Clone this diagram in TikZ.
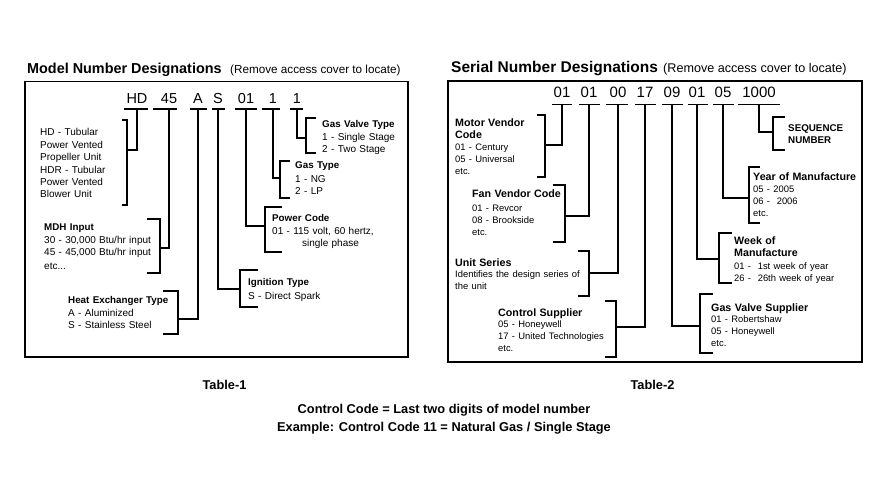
\documentclass[tikz,border=0pt]{standalone}
\usepackage{fontspec}
\setmainfont{Liberation Sans}
\newcommand\rgL{\fontsize{10}{12.6}\selectfont}
\newcommand\bdL{\bfseries\fontsize{9.8}{12.6}\selectfont}
\newcommand\rgR{\fontsize{9.4}{11.8}\selectfont}
\newcommand\bdR{\bfseries\fontsize{10.7}{11.8}\selectfont}
\tikzset{
  ln/.style={line width=1.7pt, draw=black},
  frame/.style={line width=1.6pt, draw=black},
  codeL/.style={font=\fontsize{14.5}{15}\selectfont, inner sep=0pt},
  codeR/.style={font=\fontsize{15}{16}\selectfont, inner sep=0pt},
  desc/.style={text width=150pt, align=left, inner sep=0pt, anchor=base west},
  plain/.style={inner sep=0pt, anchor=base west},
  foot/.style={inner sep=0pt, anchor=base, font=\bfseries\fontsize{12.8}{14}\selectfont},
}
% style, name, text, stem x, baseline, underline x1, underline x2, underline y
\newcommand\codeline[8]{%
  \node[#1, anchor=base] (#2) at (#4,#5) {#3};
  \coordinate (#2u) at (#4,#8);
  \draw[ln] (#6,#8) -- (#7,#8);
}
% name, x, ytop, ybot, ymid, tick dx
\newcommand\bracketpath[6]{%
  \coordinate (#1) at (#2,#5);
  \draw[ln] ({#2+#6},#3) -- (#2,#3) -- (#2,#4) -- ({#2+#6},#4);
}
\begin{document}
\begin{tikzpicture}[x=1pt,y=-1pt]
\useasboundingbox (0,0) rectangle (882,478);
\fill[white] (0,0) rectangle (882,478);

% ---------- titles ----------
\node[plain, font=\bfseries\fontsize{14.4}{15}\selectfont] (t1) at (27,73.5) {Model Number Designations};
\node[plain, font=\fontsize{11.7}{13}\selectfont] (t1r) at (230,73.5) {(Remove access cover to locate)};
\node[plain, font=\bfseries\fontsize{15.5}{16}\selectfont] (t2) at (451,72.5) {Serial Number Designations};
\node[plain, font=\fontsize{12.6}{13}\selectfont] (t2r) at (663,72.5) {(Remove access cover to locate)};

% ---------- frames ----------
\draw[frame] (25,81.5) rectangle (408,357);
\draw[frame] (448,81) rectangle (862,362);

% ---------- model number ----------
\codeline{codeL}{cHD}{HD}{137}{104}{124}{148}{109}
\codeline{codeL}{cMDH}{45}{169}{104}{153}{177}{109}
\codeline{codeL}{cA}{A}{198}{104}{190}{207}{109}
\codeline{codeL}{cS}{S}{218}{104}{212}{225}{109}
\codeline{codeL}{cPC}{01}{246}{104}{235}{257}{109}
\codeline{codeL}{cGT}{1}{273}{104}{262}{280}{109}
\codeline{codeL}{cGV}{1}{297}{104}{290}{303}{109}

\bracketpath{bHD}{127}{120}{205}{150}{-5}
\bracketpath{bMDH}{160}{219}{273}{248}{-13}
\bracketpath{bA}{178}{291}{334}{319}{-15}
\bracketpath{bS}{240}{270}{307}{289}{18}
\bracketpath{bPC}{265}{207}{252}{226}{17}
\bracketpath{bGT}{280}{161}{198}{178}{10}
\bracketpath{bGV}{306}{118}{153}{138}{10}

\draw[ln] (cHDu) |- (bHD);
\draw[ln] (cMDHu) |- (bMDH);
\draw[ln] (cAu) |- (bA);
\draw[ln] (cSu) |- (bS);
\draw[ln] (cPCu) |- (bPC);
\draw[ln] (cGTu) |- (bGT);
\draw[ln] (cGVu) |- (bGV);

\node[desc] (dHD) at (40,135.5) {\rgL HD - Tubular\\Power Vented\\Propeller Unit\\HDR - Tubular\\Power Vented\\Blower Unit};
\node[desc] (dMDH) at (44,230.5) {\rgL {\bdL MDH Input}\\30 - 30,000 Btu/hr input\\45 - 45,000 Btu/hr input\\[1.5pt]etc...};
\node[desc] (dHX) at (68,303.5) {\rgL {\bdL Heat Exchanger Type}\\A - Aluminized\\S - Stainless Steel};
\node[desc] (dIG) at (248,285.5) {\rgL {\bdL Ignition Type}\\[2.4pt]S - Direct Spark};
\node[desc] (dPC) at (272,221.5) {\rgL {\bdL Power Code}\\01 - 115 volt, 60 hertz,\\\hspace*{30pt}single phase};
\node[desc] (dGT) at (295,168.5) {\rgL {\bdL Gas Type}\\[1.5pt]1 - NG\\2 - LP};
\node[desc] (dGV) at (322,127.5) {\rgL {\bdL Gas Valve Type}\\1 - Single Stage\\2 - Two Stage};

% ---------- serial number ----------
\codeline{codeR}{s1}{01}{562}{98}{552}{572}{104.5}
\codeline{codeR}{s2}{01}{589}{98}{579}{600}{104.5}
\codeline{codeR}{s3}{00}{618}{98}{606}{628}{104.5}
\codeline{codeR}{s4}{17}{645}{98}{635}{656}{104.5}
\codeline{codeR}{s5}{09}{672}{98}{662}{683}{104.5}
\codeline{codeR}{s6}{01}{697}{98}{688}{708}{104.5}
\codeline{codeR}{s7}{05}{723}{98}{713}{734}{104.5}
\codeline{codeR}{s8}{1000}{759}{98}{738}{780}{104.5}

\bracketpath{r1}{545}{115}{177}{145}{-8}
\bracketpath{r2}{565}{185}{242}{216}{-12}
\bracketpath{r3}{589}{251}{296}{273}{-11}
\bracketpath{r4}{616}{301}{357}{327}{-11}
\bracketpath{r5}{700}{294}{353}{326}{13}
\bracketpath{r6}{719}{233}{283}{259}{13}
\bracketpath{r7}{749}{167}{223}{198}{11}
\bracketpath{r8}{773}{117}{150}{132}{12}

\draw[ln] (s1u) |- (r1);
\draw[ln] (s2u) |- (r2);
\draw[ln] (s3u) |- (r3);
\draw[ln] (s4u) |- (r4);
\draw[ln] (s5u) |- (r5);
\draw[ln] (s6u) |- (r6);
\draw[ln] (s7u) |- (r7);
\draw[ln] (s8u) |- (r8);

\node[desc] (dMV) at (455,127) {\rgR {\bdR Motor Vendor\\Code}\\01 - Century\\05 - Universal\\etc.};
\node[desc] (dFV) at (472,198) {\rgR {\bdR Fan Vendor Code}\\[1.5pt]01 - Revcor\\08 - Brookside\\etc.};
\node[desc] (dUS) at (455,266) {\rgR {\bdR Unit Series}\\Identifies the design series of\\the unit};
\node[desc] (dCS) at (498,316) {\rgR {\bdR Control Supplier}\\05 - Honeywell\\17 - United Technologies\\etc.};
\node[desc] (dGS) at (711,311) {\rgR {\bdR Gas Valve Supplier}\\01 - Robertshaw\\05 - Honeywell\\etc.};
\node[desc] (dWK) at (734,244) {\rgR {\bdR Week of\\[0.5pt]Manufacture}\\[1pt]01 - \ 1st week of year\\26 - \ 26th week of year};
\node[desc] (dYR) at (753,181) {\rgR {\bdR Year of Manufacture}\\05 - 2005\\06 - \ 2006\\etc.};
\node[desc] (dSQ) at (788,132) {\rgR {\bfseries\fontsize{9.8}{11.8}\selectfont SEQUENCE\\NUMBER}};

% ---------- footer ----------
\node[foot] (tab1) at (224.5,389.5) {Table-1};
\node[foot] (tab2) at (652.5,389.5) {Table-2};
\node[foot] (cc1) at (444,413) {Control Code = Last two digits of model number};
\node[foot] (cc2) at (444,431) {Example: Control Code 11 = Natural Gas / Single Stage};
\end{tikzpicture}
\end{document}
